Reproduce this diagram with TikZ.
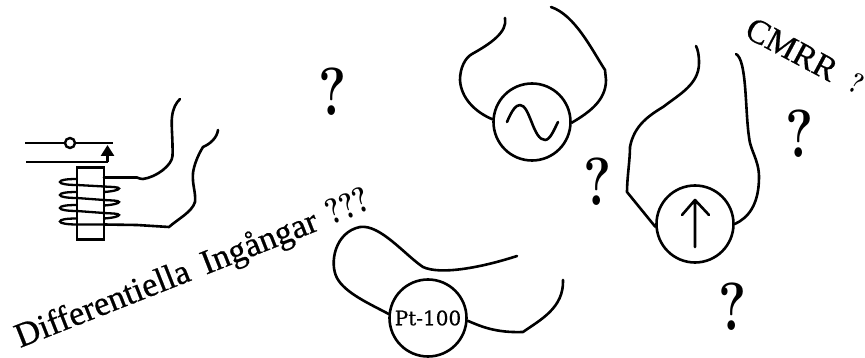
\documentclass[tikz,border=0pt]{standalone}
\usepackage{fontspec}
\newfontfamily\timesf[FakeBold=0.6]{Liberation Serif}
\newfontfamily\ptfont[FakeBold=0.6]{DejaVu Serif}
\newfontfamily\qfont[BoldFeatures={FakeStretch=0.78}]{Latin Modern Roman}
\usetikzlibrary{arrows.meta}
\tikzset{
  wire/.style={line width=2.6pt,line cap=round,line join=round},
  src/.style={circle,draw,line width=2.6pt,inner sep=0pt,minimum size=77pt,fill=none},
  qmark/.style={inner sep=0pt,font=\qfont\bfseries\fontsize{68}{68}\selectfont},
  lbl/.style={inner sep=0pt,anchor=base west},
}
\begin{document}
\begin{tikzpicture}[x=1pt,y=-1pt]
\useasboundingbox (0,0) rectangle (865,358);
% relay
\node[draw,line width=2.6pt,inner sep=0pt,minimum width=27pt,minimum height=72pt] (core) at (90.5,203.5) {};
\coordinate (sa) at (25,143); \coordinate (sb) at (113,143);
\coordinate (la) at (26,162); \coordinate (lb) at (107.5,162); \coordinate (lt) at (107.5,145);
\node[circle,draw,line width=2.4pt,inner sep=0pt,minimum size=10pt] (contact) at (70,143) {};
\draw[wire,line cap=butt] (sa) -- (contact) (contact) -- (sb);
\draw[wire,line cap=butt] (la) -- (lb);
\draw[wire,line cap=butt,-{Triangle[length=11pt,width=13pt]}] (lb) -- (lt);
% coil
\draw[line width=2.3pt,line cap=round]
  (77,179) .. controls (66,179) and (60,180) .. (60,182)
  .. controls (60,184) and (68,185) .. (77,185) -- (104,186.5)
  .. controls (112,187) and (119,187) .. (119,188.5)
  .. controls (119,190) and (112,191.5) .. (104,192)
  (77,192) .. controls (66,192) and (60,193) .. (60,195)
  .. controls (60,197) and (68,198) .. (77,198) -- (104,200)
  .. controls (112,200.5) and (119,200.5) .. (119,202)
  .. controls (119,203.5) and (112,205) .. (104,205.5)
  (77,205) .. controls (66,205) and (60,206) .. (60,208)
  .. controls (60,210) and (68,211) .. (77,211) -- (104,213)
  .. controls (112,213.5) and (119,213.5) .. (119,215)
  .. controls (119,216.5) and (112,218) .. (104,218.5)
  (77,218.5) .. controls (66,218.5) and (60,219.5) .. (60,221.5)
  .. controls (60,223.5) and (68,224.5) .. (77,224.5) -- (104,224.5);
\coordinate (c1) at (104,177.5); \coordinate (c2) at (104,224.5);
\coordinate (e1) at (180,99); \coordinate (e2) at (218,130);
\draw[wire] (c1) -- (137,177.5) .. controls (139,178.5) and (141,179) .. (143,179)
  .. controls (157,177) and (172,165) .. (172.5,156)
  .. controls (173,140) and (171,125) .. (172,117)
  .. controls (173,108) and (176,103) .. (e1);
\draw[wire] (c2) -- (137,225) -- (169,227)
  .. controls (178,219) and (192,212) .. (195,202)
  .. controls (196,192) and (192,185) .. (193,173)
  .. controls (194,165) and (198,155) .. (203,147)
  .. controls (210,144) and (217,138) .. (e2);
% Pt-100
\node[src] (pt) at (428,318) {\ptfont\fontsize{20}{20}\selectfont Pt-100};
\coordinate (p1) at (517,256); \coordinate (p2) at (563,280);
\draw[wire] (pt.174) .. controls (370,304) and (345,293) .. (337,278)
  .. controls (329,263) and (335,232) .. (360,227)
  .. controls (380,224) and (405,255) .. (423,267)
  .. controls (440,275) and (480,268) .. (p1);
\draw[wire] (pt.-4) .. controls (480,326) and (495,333) .. (523,332)
  .. controls (540,320) and (564,308) .. (p2);
% sine
\node[src] (ac) at (532,122) {};
\coordinate (a1) at (505,18); \coordinate (a2) at (551,7);
\draw[wire] (ac.176) .. controls (475,112) and (461,98) .. (460,80)
  .. controls (460,68) and (465,58) .. (472,54)
  .. controls (490,44) and (508,32) .. (a1);
\draw[wire] (ac.-1) .. controls (590,112) and (606,100) .. (606,80)
  -- (605,70) .. controls (592,50) and (575,15) .. (a2);
\draw[wire] (507,122) .. controls (512,110) and (516,105) .. (520,105)
  .. controls (530,105) and (533,140) .. (545,140)
  .. controls (550,140) and (554,130) .. (558,122);
% current source
\node[src] (dc) at (695,224) {};
\coordinate (d1) at (696,46); \coordinate (d2) at (736,54);
\coordinate (ab) at (695,247); \coordinate (at) at (695,200);
\coordinate (ah1) at (682,215); \coordinate (ah2) at (709,215);
\draw[wire] (ab) -- (at) (ah1) -- (at) -- (ah2);
\draw[wire] (dc.184) -- (627,192) .. controls (627,178) and (630,160) .. (630,147)
  .. controls (634,125) and (650,115) .. (663,107)
  .. controls (680,94) and (699,84) .. (699,63)
  .. controls (699,55) and (698,50) .. (d1);
\draw[wire] (dc.0) .. controls (748,218) and (759,205) .. (759,177)
  .. controls (759,160) and (750,150) .. (749,137)
  .. controls (745,110) and (747,60) .. (d2);
% text
\node[qmark] (q1) at (333,92) {?};
\node[qmark] (q2) at (598,182) {?};
\node[qmark] (q3) at (800,134) {?};
\node[qmark] (q4) at (733,307) {?};
\node[lbl,rotate=21.5,font=\timesf\fontsize{34.5}{34.5}\selectfont] (diff) at (20,348) {Differentiella\hspace{6pt} Ingångar};
\node[lbl,rotate=21.5,font=\qfont\bfseries\fontsize{36}{36}\selectfont] (diffq) at (331,226) {???};
\node[lbl,rotate=-28,font=\timesf\fontsize{34}{34}\selectfont] (cmrr) at (743,36) {CMRR};
\node[lbl,rotate=-28,font=\qfont\bfseries\fontsize{29}{29}\selectfont] (cmrrq) at (846,89) {?};
\end{tikzpicture}
\end{document}
